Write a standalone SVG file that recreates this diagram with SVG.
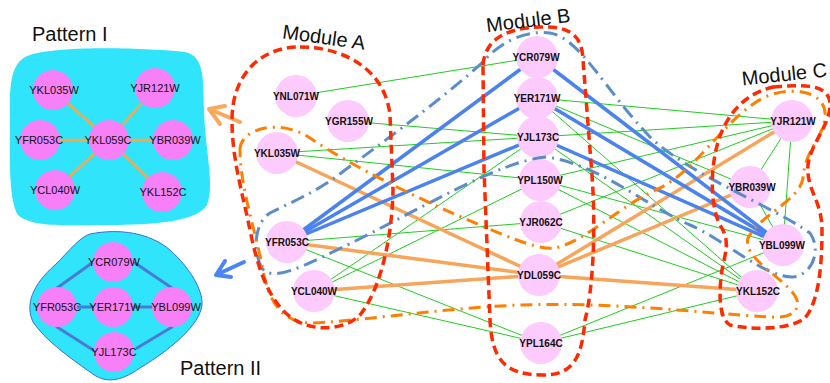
<svg xmlns="http://www.w3.org/2000/svg" width="830" height="383" viewBox="0 0 830 383">
<style>
.bg{fill:#ffffff}
.blob{fill:#2fe4fb}
.pn{fill:#f77ff7}
.mn{fill:#fdcbfd}
.pt{font-family:"Liberation Sans",Arial,sans-serif;font-size:11px;fill:#111;text-anchor:middle}
.mt{font-family:"Liberation Sans",Arial,sans-serif;font-size:10px;font-weight:bold;fill:#111;text-anchor:middle}
.title{font-family:"Liberation Sans",Arial,sans-serif;font-size:20px;fill:#111}
.g{stroke:#22cc22;stroke-width:1;fill:none}
.b{stroke:#4a82ee;stroke-width:3.5;fill:none}
.o{stroke:#f7a55a;stroke-width:3.5;fill:none}
.po{stroke:#f5a850;stroke-width:2.5}
.pb{stroke:#4a7ad8;stroke-width:3;stroke-linecap:round}
.red{fill:none;stroke:#ff2a00;stroke-width:3.5;stroke-dasharray:9 5}
.odd{fill:none;stroke:#ff8000;stroke-width:3;stroke-dasharray:12 6 2 6}
.bdd{fill:none;stroke:#5b8ec8;stroke-width:3;stroke-dasharray:14 6 2 6}
.arr{fill:none;stroke-width:4;stroke-linecap:round;stroke-linejoin:round}
</style>
<rect class="bg" x="0" y="0" width="830" height="383"/>

<!-- Pattern I panel -->
<g id="pattern1">
<path class="blob" d="M 30,55 C 60,45 150,48 185,52 C 205,56 203,80 204,110 C 205,150 215,185 207,205 C 197,222 150,225 110,225 C 70,225 32,228 18,215 C 8,200 10,150 10,120 C 10,90 8,62 30,55 Z"/>
<text class="title" x="32" y="41">Pattern I</text>
<g id="p1-edges">
<line class="po" x1="109" y1="140" x2="53" y2="90"/>
<line class="po" x1="109" y1="140" x2="155" y2="88"/>
<line class="po" x1="109" y1="140" x2="40" y2="140"/>
<line class="po" x1="109" y1="140" x2="173" y2="140"/>
<line class="po" x1="109" y1="140" x2="55" y2="190"/>
<line class="po" x1="109" y1="140" x2="162" y2="192"/>
</g>
<g id="p1-YKL035W"><circle class="pn" cx="53" cy="90" r="20"/><text class="pt" x="54" y="94">YKL035W</text></g>
<g id="p1-YJR121W"><circle class="pn" cx="155" cy="88" r="20"/><text class="pt" x="155" y="92">YJR121W</text></g>
<g id="p1-YFR053C"><circle class="pn" cx="40" cy="140" r="20"/><text class="pt" x="39" y="144">YFR053C</text></g>
<g id="p1-YKL059C"><circle class="pn" cx="109" cy="140" r="20"/><text class="pt" x="108" y="144">YKL059C</text></g>
<g id="p1-YBR039W"><circle class="pn" cx="173" cy="140" r="20"/><text class="pt" x="175" y="144">YBR039W</text></g>
<g id="p1-YCL040W"><circle class="pn" cx="55" cy="190" r="20"/><text class="pt" x="55" y="194">YCL040W</text></g>
<g id="p1-YKL152C"><circle class="pn" cx="162" cy="192" r="20"/><text class="pt" x="163" y="196">YKL152C</text></g>
</g>

<!-- Pattern II panel -->
<g id="pattern2">
<path class="blob" stroke="#3b6fd6" stroke-width="1" d="M 90,234 C 120,228 150,233 170,250 C 190,268 203,290 202,305 C 200,325 170,350 140,368 C 120,382 105,384 90,372 C 70,358 45,340 33,322 C 25,305 32,285 55,265 C 70,250 80,237 90,234 Z"/>
<text class="title" x="180" y="375">Pattern II</text>
<g id="p2-edges">
<line class="pb" x1="57" y1="288" x2="92" y2="263"/>
<line class="pb" x1="135" y1="263" x2="172" y2="288"/>
<line class="pb" x1="57" y1="327" x2="93" y2="350"/>
<line class="pb" x1="137" y1="348" x2="172" y2="327"/>
<line class="pb" x1="57" y1="307" x2="172" y2="307"/>
</g>
<g id="p2-YCR079W"><circle class="pn" cx="113" cy="262" r="20"/><text class="pt" x="114" y="266">YCR079W</text></g>
<g id="p2-YFR053C"><circle class="pn" cx="57" cy="307" r="20"/><text class="pt" x="57" y="311">YFR053C</text></g>
<g id="p2-YER171W"><circle class="pn" cx="113" cy="307" r="20"/><text class="pt" x="115" y="311">YER171W</text></g>
<g id="p2-YBL099W"><circle class="pn" cx="172" cy="307" r="20"/><text class="pt" x="176" y="311">YBL099W</text></g>
<g id="p2-YJL173C"><circle class="pn" cx="114" cy="352" r="20"/><text class="pt" x="114" y="356">YJL173C</text></g>
</g>

<!-- arrows -->
<g id="arrows">
<path class="arr" stroke="#f9a85c" d="M 240,122 L 209,109 M 225,106 L 209,109 L 220,124"/>
<path class="arr" stroke="#4a85f5" d="M 244,262 L 216,275 M 225,261 L 216,275 L 231,277"/>
</g>

<!-- connectors -->
<g id="connectors">
<line class="g" x1="296" y1="96" x2="537" y2="57"/>
<line class="g" x1="348" y1="121" x2="538" y2="137"/>
<line class="g" x1="277" y1="153" x2="538" y2="137"/>
<line class="g" x1="277" y1="153" x2="540" y2="180"/>
<line class="g" x1="314" y1="291" x2="538" y2="137"/>
<line class="g" x1="314" y1="291" x2="540" y2="180"/>
<line class="g" x1="287" y1="242" x2="541" y2="222"/>
<line class="g" x1="287" y1="242" x2="541" y2="343"/>
<line class="g" x1="314" y1="291" x2="541" y2="343"/>
<line class="g" x1="537" y1="98" x2="792" y2="121"/>
<line class="g" x1="538" y1="137" x2="792" y2="121"/>
<line class="g" x1="540" y1="180" x2="792" y2="121"/>
<line class="g" x1="541" y1="222" x2="792" y2="121"/>
<line class="g" x1="537" y1="98" x2="783" y2="245"/>
<line class="g" x1="537" y1="98" x2="757" y2="291"/>
<line class="g" x1="537" y1="98" x2="750" y2="187"/>
<line class="g" x1="538" y1="137" x2="757" y2="291"/>
<line class="g" x1="540" y1="180" x2="783" y2="245"/>
<line class="g" x1="540" y1="180" x2="757" y2="291"/>
<line class="g" x1="541" y1="222" x2="757" y2="291"/>
<line class="g" x1="541" y1="343" x2="783" y2="245"/>
<line class="g" x1="541" y1="343" x2="757" y2="291"/>
<line class="g" x1="553" y1="70" x2="765" y2="232"/>
<line class="g" x1="792" y1="121" x2="750" y2="187"/>
<line class="g" x1="792" y1="121" x2="783" y2="245"/>
<line class="g" x1="750" y1="187" x2="783" y2="245"/>

<line class="o" x1="539" y1="275" x2="277" y2="153"/>
<line class="o" x1="539" y1="275" x2="287" y2="242"/>
<line class="o" x1="539" y1="275" x2="314" y2="291"/>
<line class="o" x1="539" y1="275" x2="792" y2="121"/>
<line class="o" x1="539" y1="275" x2="750" y2="187"/>
<line class="o" x1="539" y1="275" x2="757" y2="291"/>

<line class="b" x1="287" y1="242" x2="537" y2="57"/>
<line class="b" x1="287" y1="242" x2="537" y2="98"/>
<line class="b" x1="287" y1="242" x2="538" y2="137"/>
<line class="b" x1="783" y1="245" x2="537" y2="57"/>
<line class="b" x1="783" y1="245" x2="537" y2="98"/>
<line class="b" x1="783" y1="245" x2="538" y2="137"/>
</g>

<!-- main nodes -->
<g id="YNL071W"><circle class="mn" cx="296" cy="96" r="21"/><text class="mt" x="296" y="100">YNL071W</text></g>
<g id="YGR155W"><circle class="mn" cx="348" cy="121" r="21"/><text class="mt" x="349" y="125">YGR155W</text></g>
<g id="YKL035W"><circle class="mn" cx="277" cy="153" r="21"/><text class="mt" x="277" y="157">YKL035W</text></g>
<g id="YFR053C"><circle class="mn" cx="287" cy="242" r="21"/><text class="mt" x="287" y="246">YFR053C</text></g>
<g id="YCL040W"><circle class="mn" cx="314" cy="291" r="21"/><text class="mt" x="314" y="295">YCL040W</text></g>
<g id="YCR079W"><circle class="mn" cx="537" cy="57" r="21"/><text class="mt" x="536" y="61">YCR079W</text></g>
<g id="YER171W"><circle class="mn" cx="537" cy="98" r="21"/><text class="mt" x="537" y="102">YER171W</text></g>
<g id="YJL173C"><circle class="mn" cx="538" cy="137" r="21"/><text class="mt" x="538" y="141">YJL173C</text></g>
<g id="YPL150W"><circle class="mn" cx="540" cy="180" r="21"/><text class="mt" x="540" y="184">YPL150W</text></g>
<g id="YJR062C"><circle class="mn" cx="541" cy="222" r="21"/><text class="mt" x="541" y="226">YJR062C</text></g>
<g id="YDL059C"><circle class="mn" cx="539" cy="275" r="21"/><text class="mt" x="539" y="279">YDL059C</text></g>
<g id="YPL164C"><circle class="mn" cx="541" cy="343" r="21"/><text class="mt" x="541" y="347">YPL164C</text></g>
<g id="YJR121W"><circle class="mn" cx="792" cy="121" r="21"/><text class="mt" x="793" y="125">YJR121W</text></g>
<g id="YBR039W"><circle class="mn" cx="750" cy="187" r="21"/><text class="mt" x="752" y="191">YBR039W</text></g>
<g id="YBL099W"><circle class="mn" cx="783" cy="245" r="21"/><text class="mt" x="782" y="249">YBL099W</text></g>
<g id="YKL152C"><circle class="mn" cx="757" cy="291" r="21"/><text class="mt" x="758" y="295">YKL152C</text></g>

<!-- outlines -->
<g id="outlines">
<path class="bdd" d="M 262,268 C 254,255 252,225 270,213 C 300,198 320,190 345,170 C 400,130 450,92 483,62 C 500,42 525,30 550,33 C 580,38 605,90 650,137 C 690,175 770,205 810,233 C 822,250 812,275 793,277 C 765,278 725,240 690,225 C 645,205 600,165 547,157 C 500,160 420,210 337,250 C 305,265 272,283 262,268 Z"/>
<path class="odd" d="M 240,150 C 240,128 280,118 310,138 C 350,165 420,200 480,225 C 515,240 540,250 555,248 C 585,242 620,205 660,188 C 700,168 730,110 770,95 C 800,85 828,95 825,118 C 822,140 805,150 803,178 C 800,200 760,215 748,238 C 742,260 790,280 797,300 C 800,315 785,318 770,317 C 700,313 600,300 500,306 C 430,310 350,322 310,323 C 280,322 268,300 262,265 C 255,230 240,185 240,150 Z"/>
<path id="moduleA" class="red" d="M 300,47 C 345,47 385,70 390,115 L 393,190 C 392,240 380,290 360,315 C 345,330 315,332 295,320 C 270,305 258,270 250,230 C 243,195 232,160 232,120 C 232,75 260,47 300,47 Z"/>
<path id="moduleB" class="red" d="M 483,65 C 485,40 505,28 540,27 C 570,26 582,35 583,60 L 592,175 C 596,230 593,290 585,320 C 582,355 575,375 543,375 C 505,375 492,360 490,320 L 484,170 Z"/>
<path id="moduleC" class="red" d="M 773,87 C 800,85 830,82 830,105 C 830,125 810,145 808,165 C 806,190 822,200 822,230 C 822,260 820,300 805,318 C 790,330 750,330 730,325 C 718,318 719,290 722,270 C 726,250 730,240 720,225 C 712,210 710,180 715,155 C 720,125 738,95 773,87 Z"/>
</g>

<g id="module-labels">
<text class="title" text-anchor="middle" transform="translate(323,44) rotate(8)">Module A</text>
<text class="title" text-anchor="middle" transform="translate(529,27) rotate(-7)">Module B</text>
<text class="title" text-anchor="middle" transform="translate(785,81) rotate(-6)">Module C</text>
</g>
</svg>
